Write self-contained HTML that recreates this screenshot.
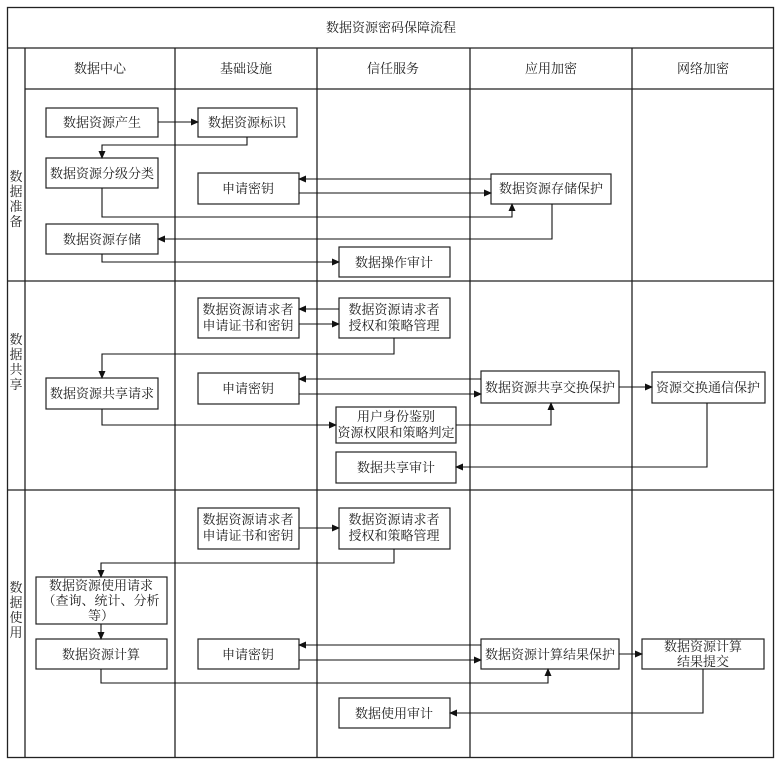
<!DOCTYPE html>
<html><head><meta charset="utf-8"><style>
html,body{margin:0;padding:0;background:#fff;}
svg text{font-family:"Liberation Serif","Noto Serif CJK SC","Noto Sans CJK SC",serif;font-size:13px;fill:#222;}
</style></head><body>
<svg width="775" height="766" viewBox="0 0 775 766" xmlns="http://www.w3.org/2000/svg">
<defs><marker id="a" markerWidth="8" markerHeight="8" refX="7" refY="4" orient="auto" markerUnits="userSpaceOnUse"><path d="M0,0.5 L8,4 L0,7.5 z" fill="#111"/></marker></defs>
<g stroke="#222" stroke-width="1.3" fill="none">
<rect x="7.5" y="7.5" width="766" height="750"/>
<line x1="7" y1="48" x2="774" y2="48"/>
<line x1="25" y1="48" x2="25" y2="758"/>
<line x1="175" y1="48" x2="175" y2="758"/>
<line x1="317" y1="48" x2="317" y2="758"/>
<line x1="470" y1="48" x2="470" y2="758"/>
<line x1="632" y1="48" x2="632" y2="758"/>
<line x1="25" y1="89" x2="774" y2="89"/>
<line x1="7" y1="281" x2="774" y2="281"/>
<line x1="7" y1="490" x2="774" y2="490"/>
</g>
<g stroke="#222" stroke-width="1.2" fill="#fff">
<rect x="46" y="108" width="112" height="29"/>
<rect x="198" y="108" width="99" height="29"/>
<rect x="46" y="158" width="112" height="30"/>
<rect x="198" y="173" width="101" height="31"/>
<rect x="491" y="174" width="120" height="30"/>
<rect x="46" y="224" width="112" height="30"/>
<rect x="339" y="247" width="111" height="30"/>
<rect x="198" y="298" width="101" height="40"/>
<rect x="339" y="298" width="111" height="40"/>
<rect x="46" y="378" width="112" height="31"/>
<rect x="198" y="373" width="101" height="31"/>
<rect x="481" y="371" width="138" height="32"/>
<rect x="652" y="372" width="113" height="31"/>
<rect x="336" y="407" width="120" height="36"/>
<rect x="336" y="452" width="120" height="31"/>
<rect x="198" y="508" width="101" height="41"/>
<rect x="339" y="508" width="111" height="41"/>
<rect x="36" y="577" width="131" height="47"/>
<rect x="36" y="639" width="131" height="30"/>
<rect x="198" y="639" width="101" height="30"/>
<rect x="481" y="639" width="138" height="30"/>
<rect x="642" y="639" width="122" height="30"/>
<rect x="339" y="698" width="111" height="30"/>
</g>
<g stroke="#111" stroke-width="1.1" fill="none" marker-end="url(#a)">
<path d="M158 122 H198"/>
<path d="M247 137 V145 H102 V158"/>
<path d="M491 179 H299"/>
<path d="M299 193 H491"/>
<path d="M102 188 V217 H512 V204"/>
<path d="M552 204 V239 H158"/>
<path d="M102 254 V262 H339"/>
<path d="M339 309 H299"/>
<path d="M299 324 H339"/>
<path d="M394 338 V354 H102 V378"/>
<path d="M481 379 H299"/>
<path d="M299 394 H481"/>
<path d="M619 387 H652"/>
<path d="M102 409 V425 H336"/>
<path d="M456 425 H551 V403"/>
<path d="M707 403 V467 H456"/>
<path d="M299 528 H339"/>
<path d="M394 549 V563 H101 V577"/>
<path d="M101 624 V639"/>
<path d="M481 645 H299"/>
<path d="M299 660 H481"/>
<path d="M619 654 H642"/>
<path d="M101 669 V683 H548 V669"/>
<path d="M703 669 V713 H450"/>
</g>
<g text-anchor="middle">
<text x="391" y="32">数据资源密码保障流程</text>
<text x="100" y="73">数据中心</text>
<text x="246" y="73">基础设施</text>
<text x="393" y="73">信任服务</text>
<text x="551" y="73">应用加密</text>
<text x="703" y="73">网络加密</text>
<text x="16" y="181">数</text><text x="16" y="196">据</text><text x="16" y="211">准</text><text x="16" y="226">备</text>
<text x="16" y="344">数</text><text x="16" y="359">据</text><text x="16" y="374">共</text><text x="16" y="389">享</text>
<text x="16" y="592">数</text><text x="16" y="607">据</text><text x="16" y="622">使</text><text x="16" y="637">用</text>
<text x="102" y="127">数据资源产生</text>
<text x="247" y="127">数据资源标识</text>
<text x="102" y="178">数据资源分级分类</text>
<text x="248" y="193">申请密钥</text>
<text x="551" y="193">数据资源存储保护</text>
<text x="102" y="244">数据资源存储</text>
<text x="394" y="267">数据操作审计</text>
<text x="248" y="314">数据资源请求者</text><text x="248" y="330">申请证书和密钥</text>
<text x="394" y="314">数据资源请求者</text><text x="394" y="330">授权和策略管理</text>
<text x="102" y="398">数据资源共享请求</text>
<text x="248" y="393">申请密钥</text>
<text x="550" y="392">数据资源共享交换保护</text>
<text x="708" y="392">资源交换通信保护</text>
<text x="396" y="421">用户身份鉴别</text><text x="396" y="437">资源权限和策略判定</text>
<text x="396" y="472">数据共享审计</text>
<text x="248" y="524">数据资源请求者</text><text x="248" y="540">申请证书和密钥</text>
<text x="394" y="524">数据资源请求者</text><text x="394" y="540">授权和策略管理</text>
<text x="101" y="590">数据资源使用请求</text><text x="101" y="605">（查询、统计、分析</text><text x="101" y="620">等）</text>
<text x="101" y="659">数据资源计算</text>
<text x="248" y="659">申请密钥</text>
<text x="550" y="659">数据资源计算结果保护</text>
<text x="703" y="651">数据资源计算</text><text x="703" y="666">结果提交</text>
<text x="394" y="718">数据使用审计</text>
</g>
</svg>
</body></html>
